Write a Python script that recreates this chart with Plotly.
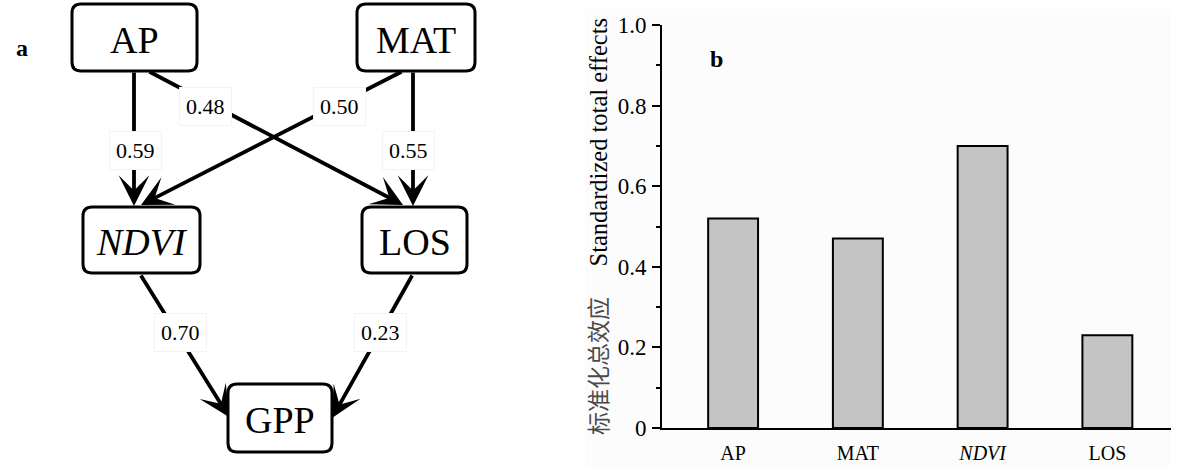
import plotly.graph_objects as go

# ---------------- data ----------------
categories = ["AP", "MAT", "NDVI", "LOS"]
category_labels = ["AP", "MAT", "<i>NDVI</i>", "LOS"]
total_effects = [0.52, 0.47, 0.70, 0.23]

node_names = ["AP", "MAT", "NDVI", "LOS", "GPP"]
node_labels = ["AP", "MAT", "<i>NDVI</i>", "LOS", "GPP"]
path_from = ["AP", "AP", "MAT", "MAT", "NDVI", "LOS"]
path_to = ["NDVI", "LOS", "NDVI", "LOS", "GPP", "GPP"]
path_coef = [0.59, 0.48, 0.50, 0.55, 0.70, 0.23]

y_ticks = [0, 0.2, 0.4, 0.6, 0.8, 1.0]
y_ticklabels = ["0", "0.2", "0.4", "0.6", "0.8", "1.0"]
y_minor_ticks = [0.1, 0.3, 0.5, 0.7, 0.9]

# ---------------- layout constants (diagram geometry, pixels) ----------------
W, H = 1177, 467
FONT = "Liberation Serif"
node_box = {  # cx, cy, w, h
    "AP": (134.5, 37.5, 125, 67),
    "MAT": (416, 37.5, 118, 67),
    "NDVI": (141.5, 240, 117, 66),
    "LOS": (414.5, 240, 105, 66),
    "GPP": (280, 418, 104, 68),
}
# arrow tail (x, y), head (x, y), label position (x, y)
edge_geom = [
    ((134, 71), (134, 206), (135, 150)),
    ((148, 71), (403, 205), (205, 106)),
    ((403, 71), (141, 205), (339, 106)),
    ((413, 71), (413, 206), (408, 150)),
    ((140, 274), (229, 417), (180, 332)),
    ((413, 274), (332, 418), (380, 332)),
]

fig = go.Figure()

# faint panel background for b
fig.add_shape(type="rect", xref="paper", yref="paper",
              x0=585 / W, x1=1171 / W, y0=0, y1=1 - 9 / H,
              fillcolor="#fcfcfc", line=dict(width=0), layer="below")

# ---------------- bar chart (panel b) ----------------
fig.add_trace(go.Bar(
    x=list(range(len(categories))), y=total_effects,
    width=0.4,
    marker=dict(color="#c4c4c4", line=dict(color="black", width=2)),
    xaxis="x", yaxis="y", showlegend=False, hoverinfo="y",
))

GAP = "\u00a0" * 4 + " "
fig.update_layout(
    xaxis=dict(domain=[662 / W, 1171 / W], range=[-0.57, 3.51],
               tickmode="array", tickvals=list(range(len(categories))),
               ticktext=category_labels, ticks="", showgrid=False,
               zeroline=False, showline=True, linecolor="black", linewidth=2,
               tickfont=dict(family=FONT, size=20, color="black"),
               ticklabelstandoff=6,
               anchor="y", fixedrange=True, automargin=False),
    yaxis=dict(domain=[1 - 428 / H, 1 - 25 / H], range=[0, 1.0],
               tickmode="array", tickvals=y_ticks, ticktext=y_ticklabels,
               ticks="outside", ticklen=8, tickwidth=2, tickcolor="black",
               minor=dict(tickvals=y_minor_ticks, ticks="outside",
                          ticklen=4, tickwidth=2, tickcolor="black"),
               showgrid=False, zeroline=False, showline=True, linecolor="black",
               linewidth=2, ticklabelstandoff=1,
               tickfont=dict(family=FONT, size=23, color="black"),
               title=dict(text="<span style='color:#4a4a4a;font-size:23px'>标准化总效应</span>"
                               + GAP + "Standardized total effects",
                          font=dict(family="Liberation Serif, Noto Sans CJK SC",
                                    size=24.5, color="black"),
                          standoff=3),
               anchor="x", fixedrange=True, automargin=False),
    # diagram axes in pixel coordinates
    xaxis2=dict(domain=[0, 0.5], range=[0, W * 0.5], visible=False,
                fixedrange=True, anchor="y2", automargin=False),
    yaxis2=dict(domain=[0, 1], range=[H, 0], visible=False,
                fixedrange=True, anchor="x2", automargin=False),
)

# panel letters
fig.add_annotation(x=716 / W, y=1 - 44 / H, xref="paper", yref="paper",
                   text="<b>b</b>", showarrow=False,
                   font=dict(family=FONT, size=24, color="black"))
fig.add_annotation(x=14 / W, y=1 - 33 / H, xref="paper", yref="paper",
                   text="<b>a</b>", showarrow=False,
                   font=dict(family=FONT, size=24, color="black"))

# ---------------- path diagram (panel a) ----------------
def rounded_rect(cx, cy, w, h, r=9):
    x0, x1 = cx - w / 2, cx + w / 2
    y0, y1 = cy - h / 2, cy + h / 2
    return (f"M {x0 + r},{y0} L {x1 - r},{y0} Q {x1},{y0} {x1},{y0 + r} "
            f"L {x1},{y1 - r} Q {x1},{y1} {x1 - r},{y1} "
            f"L {x0 + r},{y1} Q {x0},{y1} {x0},{y1 - r} "
            f"L {x0},{y0 + r} Q {x0},{y0} {x0 + r},{y0} Z")

for name, label in zip(node_names, node_labels):
    cx, cy, w, h = node_box[name]
    fig.add_shape(type="path", xref="x2", yref="y2", path=rounded_rect(cx, cy, w, h),
                  line=dict(color="black", width=3), fillcolor="white")
    fig.add_annotation(x=cx, y=cy + 2, xref="x2", yref="y2", text=label,
                       showarrow=False, font=dict(family=FONT, size=38, color="black"))

for (tail, head, lab), coef in zip(edge_geom, path_coef):
    fig.add_annotation(x=head[0], y=head[1], ax=tail[0], ay=tail[1],
                       xref="x2", yref="y2", axref="x2", ayref="y2",
                       text="", showarrow=True, arrowhead=3, arrowsize=1.35,
                       arrowwidth=3.8, arrowcolor="black")

for (tail, head, lab), coef in zip(edge_geom, path_coef):
    fig.add_annotation(x=lab[0], y=lab[1], xref="x2", yref="y2",
                       text=f"{coef:.2f}", showarrow=False,
                       bgcolor="white", bordercolor="#f3f3f3", borderwidth=1,
                       borderpad=6,
                       font=dict(family=FONT, size=22, color="black"))

fig.update_layout(
    width=W, height=H, margin=dict(l=0, r=0, t=0, b=0, autoexpand=False),
    paper_bgcolor="white", plot_bgcolor="rgba(0,0,0,0)",
)

fig.write_html("out.html")
